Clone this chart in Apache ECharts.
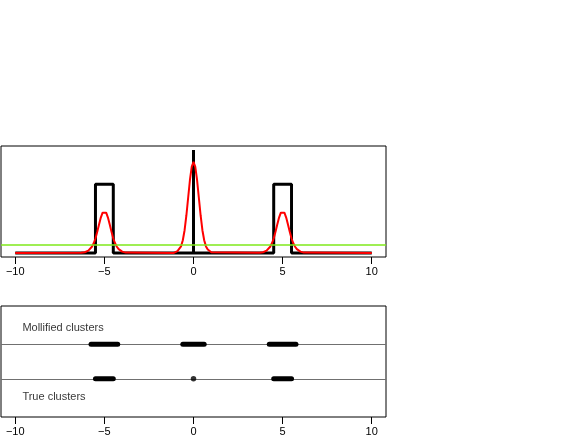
<!DOCTYPE html>
<html>
<head>
<meta charset="utf-8">
<script src="https://cdn.jsdelivr.net/npm/echarts@6/dist/echarts.min.js"></script>
<style>
  html, body { margin: 0; padding: 0; background: #fff; }
  #chart { width: 579px; height: 439px; }
</style>
</head>
<body>
<div id="chart"></div>
<script>
// 刻度
const xTicks = [-10, -5, 0, 5, 10];

// 真实密度(阶梯线 + 0 处尖峰)
const stepX = [-10, -5.5, -5.5, -4.5, -4.5, 0, 0, 0, 4.5, 4.5, 5.5, 5.5, 10];
const stepY = [0, 0, 1, 1, 0, 0, 1.5, 0, 0, 1, 1, 0, 0];

// 平滑后的曲线
const redX = [-10,
  -6.3, -6.2, -6.1, -6.0, -5.9, -5.8, -5.7, -5.6, -5.5, -5.4, -5.3, -5.2, -5.1, -5.0,
  -4.9, -4.8, -4.7, -4.6, -4.5, -4.4, -4.3, -4.2, -4.1, -4.0, -3.9, -3.8, -3.7,
  -1.1, -1.0, -0.9, -0.8, -0.7, -0.6, -0.5, -0.4, -0.3, -0.2, -0.1, 0,
  0.1, 0.2, 0.3, 0.4, 0.5, 0.6, 0.7, 0.8, 0.9, 1.0, 1.1,
  3.7, 3.8, 3.9, 4.0, 4.1, 4.2, 4.3, 4.4, 4.5, 4.6, 4.7, 4.8, 4.9, 5.0,
  5.1, 5.2, 5.3, 5.4, 5.5, 5.6, 5.7, 5.8, 5.9, 6.0, 6.1, 6.2, 6.3,
  10];
const redY = [0,
  0.001, 0.004, 0.009, 0.018, 0.032, 0.055, 0.09, 0.14, 0.21, 0.307, 0.415, 0.516, 0.587, 0.613,
  0.587, 0.516, 0.415, 0.307, 0.21, 0.14, 0.09, 0.055, 0.032, 0.018, 0.009, 0.004, 0.001,
  0, 0.01, 0.025, 0.05, 0.095, 0.185, 0.331, 0.546, 0.805, 1.064, 1.256, 1.328,
  1.256, 1.064, 0.805, 0.546, 0.331, 0.185, 0.095, 0.05, 0.025, 0.01, 0,
  0.001, 0.004, 0.009, 0.018, 0.032, 0.055, 0.09, 0.14, 0.21, 0.307, 0.415, 0.516, 0.587, 0.613,
  0.587, 0.516, 0.415, 0.307, 0.21, 0.14, 0.09, 0.055, 0.032, 0.018, 0.009, 0.004, 0.001,
  0];

// 阈值线
const greenLevel = 0.12;

// 下图:聚类区间
const mollifiedClusters = [[-5.75, -4.25], [-0.6, 0.6], [4.25, 5.75]];
const trueClusters = [[-5.5, -4.5], [4.5, 5.5]];
const truePoints = [0];
const rowLevels = [1, 0];
const rowLabels = ['Mollified clusters', 'True clusters'];
const labelPos = [[-9.6, 1.48], [-9.6, -0.51]];

const FONT = 'Liberation Sans, Arial, Helvetica, sans-serif';

function xAxisCfg(gridIndex) {
    return {
        type: 'value',
        gridIndex: gridIndex,
        position: 'bottom',
        min: -10.8,
        max: 10.8,
        axisLine: { show: false, onZero: false },
        splitLine: { show: false },
        axisTick: {
            show: true,
            inside: false,
            length: 7,
            customValues: xTicks,
            lineStyle: { color: '#000', width: 1 }
        },
        axisLabel: {
            show: true,
            inside: false,
            customValues: xTicks,
            margin: 9,
            color: '#000',
            fontSize: 11,
            fontFamily: FONT,
            formatter: v => String(v).replace('-', '\u2212')
        }
    };
}

const chart = echarts.init(document.getElementById('chart'));

// 粗线段
const segSeries = [];
[[mollifiedClusters, rowLevels[0]], [trueClusters, rowLevels[1]]].forEach(([segs, lvl]) => {
    segs.forEach(s => {
        segSeries.push({
            type: 'line', xAxisIndex: 1, yAxisIndex: 1, symbol: 'none',
            data: [[s[0], lvl], [s[1], lvl]],
            lineStyle: { color: '#000', width: 5, cap: 'round' },
            z: 3
        });
    });
});

const option = {
    animation: false,
    backgroundColor: '#fff',
    grid: [
        { left: 1, top: 146, width: 385, height: 111, show: true, borderColor: '#000', borderWidth: 1 },
        { left: 1, top: 306, width: 385, height: 111, show: true, borderColor: '#000', borderWidth: 1 }
    ],
    xAxis: [xAxisCfg(0), xAxisCfg(1)],
    yAxis: [
        { type: 'value', gridIndex: 0, min: -0.06, max: 1.56, show: false },
        { type: 'value', gridIndex: 1, min: -1.1, max: 2.1, show: false }
    ],
    series: [
        {
            type: 'line', xAxisIndex: 0, yAxisIndex: 0, symbol: 'none',
            data: stepX.map((x, i) => [x, stepY[i]]),
            lineStyle: { color: '#000', width: 3 },
            z: 2
        },
        {
            type: 'line', xAxisIndex: 0, yAxisIndex: 0, symbol: 'none',
            data: redX.map((x, i) => [x, redY[i]]),
            lineStyle: { color: '#ff0000', width: 2 },
            z: 3
        },
        {
            type: 'line', xAxisIndex: 0, yAxisIndex: 0, symbol: 'none',
            data: [],
            markLine: {
                silent: true, symbol: 'none', label: { show: false },
                lineStyle: { color: '#7fe81a', width: 1.5, type: 'solid' },
                data: [{ yAxis: greenLevel }]
            },
            z: 4
        },
        {
            type: 'line', xAxisIndex: 1, yAxisIndex: 1, symbol: 'none',
            data: [],
            markLine: {
                silent: true, symbol: 'none', label: { show: false },
                z: 1,
                lineStyle: { color: '#707070', width: 1.2, type: 'solid' },
                data: rowLevels.map(v => ({ yAxis: v }))
            },
            z: 1
        },
        ...segSeries,
        {
            type: 'scatter', xAxisIndex: 1, yAxisIndex: 1,
            symbolSize: 5.5,
            itemStyle: { color: '#000' },
            data: truePoints.map(x => [x, rowLevels[1]]),
            z: 3
        },
        {
            type: 'scatter', xAxisIndex: 1, yAxisIndex: 1,
            symbolSize: 0,
            data: labelPos.map((p, i) => ({ value: p, name: rowLabels[i] })),
            label: {
                show: true,
                position: 'right',
                distance: 0,
                formatter: p => p.name,
                color: '#000',
                fontSize: 11,
                fontFamily: FONT
            },
            z: 5
        }
    ]
};

chart.setOption(option);
</script>
</body>
</html>
